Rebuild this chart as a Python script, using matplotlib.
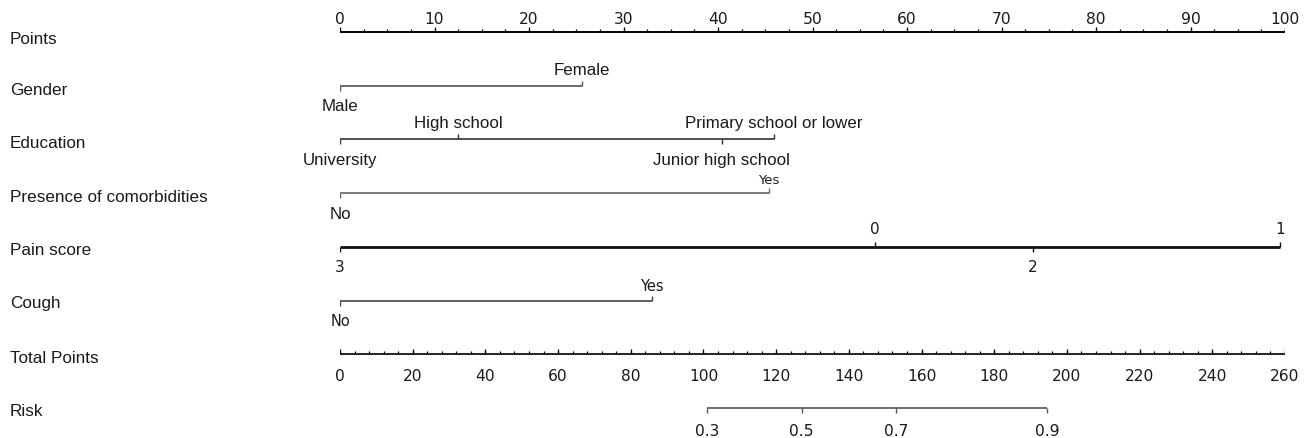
import numpy as np
import matplotlib.pyplot as plt
from matplotlib.transforms import blended_transform_factory

# row names, top to bottom
rows = ["Points", "Gender", "Education", "Presence of comorbidities",
        "Pain score", "Cough", "Total Points", "Risk"]

# points scale
points_major = np.arange(0, 101, 10)
points_minor = np.arange(0, 100.1, 2.5)

# predictor levels and their points
gender_levels = ["Male", "Female"]
gender_pts = [0, 25.6]

edu_levels = ["University", "High school", "Junior high school", "Primary school or lower"]
edu_pts = [0, 12.5, 40.4, 45.9]

comorb_levels = ["No", "Yes"]
comorb_pts = [0, 45.4]

pain_levels = ["3", "0", "2", "1"]
pain_pts = [0, 56.6, 73.3, 99.5]

cough_levels = ["No", "Yes"]
cough_pts = [0, 33.0]

# total points scale
total_major = np.arange(0, 261, 20)
total_minor = np.arange(0, 260.1, 4)

# risk scale, placed on total points
risk_labels = ["0.3", "0.5", "0.7", "0.9"]
risk_total = [101.0, 127.0, 153.0, 194.5]

W, H = 1304, 439
fig = plt.figure(figsize=(W / 100, H / 100), dpi=100)
fig.patch.set_facecolor("white")

# axes: x in points (0..100), y in row index
y_top, y_bot = 33, 409
step = (y_bot - y_top) / 7
ax = fig.add_axes([340 / W, 1 - (y_bot + step / 2) / H, 945 / W, (y_bot - y_top + step) / H])
ax.set_xlim(0, 100)
ax.set_ylim(7.5, -0.5)
ax.axis("off")

px = 1 / step  # one pixel in y data units
arial = "Liberation Sans"
dejavu = "DejaVu Sans"
txt = "#1a1a1a"

# left row labels
lab_off = [7, 4, 3, 3, 3, 2, 3, 3]
trans = blended_transform_factory(fig.transFigure, ax.transData)
for i, name in enumerate(rows):
    ax.text(10 / W, i + lab_off[i] * px, name, transform=trans, ha="left", va="center",
            fontsize=12.3, family=arial, color=txt)

# Points axis
ax.plot([0, 100], [0, 0], color="black", lw=1.4, solid_capstyle="butt")
ax.vlines(points_minor, 0, -3 * px, color="black", lw=0.9)
ax.vlines(points_major, 0, -5 * px, color="black", lw=0.9)
for v in points_major:
    ax.text(v, -14 * px, str(v), ha="center", va="center", fontsize=11.2, family=dejavu,
            color=txt)


def draw_factor(row, pts, levels, color, lw=1.2, font=arial, size=12.2, up_off=16, dn_off=20):
    ax.plot([min(pts), max(pts)], [row, row], color=color, lw=lw, solid_capstyle="butt")
    for k, (p, name) in enumerate(zip(pts, levels)):
        if k % 2 == 0:
            ax.vlines(p, row, row + 5 * px, color=color, lw=1.0)
            ax.text(p, row + dn_off * px, name, ha="center", va="center", fontsize=size,
                    family=font, color=txt)
        else:
            ax.vlines(p, row, row - 5 * px, color=color, lw=1.0)
            ax.text(p, row - up_off * px, name, ha="center", va="center", fontsize=size,
                    family=font, color=txt)


draw_factor(1, gender_pts, gender_levels, "#555555")
draw_factor(2, edu_pts, edu_levels, "#333333", up_off=17)
draw_factor(3, comorb_pts, comorb_levels, "#666666")
# smaller Yes label for comorbidities
ax.texts[-1].set_fontsize(9.5)
ax.texts[-1].set_family(dejavu)
ax.texts[-1].set_y(3 - 14 * px)
draw_factor(4, pain_pts, pain_levels, "#111111", lw=2.0, font=dejavu, size=11, up_off=18)
draw_factor(5, cough_pts, cough_levels, "#444444", font=dejavu, size=10.5, up_off=15)

# Total Points axis
tp = lambda v: np.asarray(v) * 100 / 260
ax.plot([0, 100], [6, 6], color="black", lw=1.2, solid_capstyle="butt")
ax.vlines(tp(total_minor), 6, 6 - 3 * px, color="black", lw=0.9)
ax.vlines(tp(total_major), 6, 6 - 5 * px, color="black", lw=0.9)
for v in total_major:
    ax.text(tp(v), 6 + 21 * px, str(v), ha="center", va="center", fontsize=11.2,
            family=dejavu, color=txt)

# Risk axis
rx = tp(risk_total)
ax.plot([rx[0], rx[-1]], [7, 7], color="#555555", lw=1.2, solid_capstyle="butt")
ax.vlines(rx, 7, 7 + 5 * px, color="#555555", lw=1.0)
for x, lab in zip(rx, risk_labels):
    ax.text(x, 7 + 23 * px, lab, ha="center", va="center", fontsize=11.2, family=dejavu,
            color=txt)

fig.savefig("out.png", dpi=100)
